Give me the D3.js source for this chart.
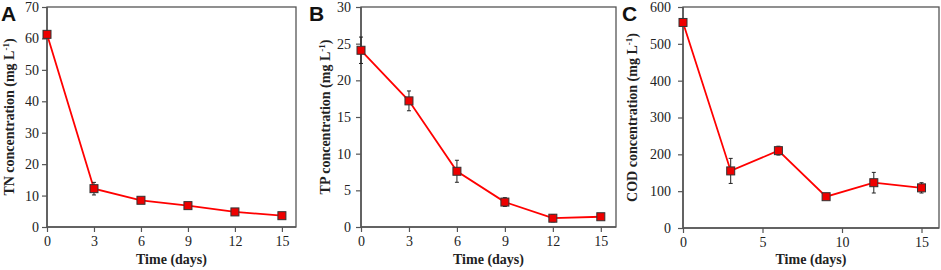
<!DOCTYPE html>
<html>
<head>
<meta charset="utf-8">
<script src="https://cdn.jsdelivr.net/npm/d3@7/dist/d3.min.js"></script>
<style>
  html, body { margin: 0; padding: 0; background: #fff; }
  svg { display: block; }
</style>
</head>
<body>
<svg id="chart" width="941" height="270"></svg>
<script>
// ---- data ----
const days = [0, 3, 6, 9, 12, 15];
const tnValues = [61.3, 12.2, 8.5, 6.8, 4.8, 3.6];
const tnErrors = [0.8, 2.0, 0.7, 0.6, 0.6, 0.5];
const tpValues = [24.1, 17.2, 7.6, 3.4, 1.2, 1.4];
const tpErrors = [1.8, 1.35, 1.5, 0.6, 0.5, 0.4];
const codValues = [558, 155, 210, 85, 123, 109];
const codErrors = [6, 34, 12, 5, 28, 14];
const tnTicksY = [0, 10, 20, 30, 40, 50, 60, 70];
const tpTicksY = [0, 5, 10, 15, 20, 25, 30];
const codTicksY = [0, 100, 200, 300, 400, 500, 600];
const ticksX3 = [0, 3, 6, 9, 12, 15];
const ticksX5 = [0, 5, 10, 15];
const panelLetters = ["A", "B", "C"];
const yTitles = ["TN concentration (mg L", "TP concentration (mg L", "COD concentration (mg L"];
const xTitle = "Time (days)";

const panels = [
  { letter: panelLetters[0], values: tnValues, errors: tnErrors, yTicks: tnTicksY, xTicks: ticksX3, yMax: 70, xMax: 15.9, yTitle: yTitles[0],
    left: 47, right: 296, top: 7, bottom: 227, yTitleX: 10, letterX: 1, tickPad: 3 },
  { letter: panelLetters[1], values: tpValues, errors: tpErrors, yTicks: tpTicksY, xTicks: ticksX3, yMax: 30, xMax: 15.95, yTitle: yTitles[1],
    left: 361, right: 616, top: 7, bottom: 227, yTitleX: 326, letterX: 309, tickPad: 5 },
  { letter: panelLetters[2], values: codValues, errors: codErrors, yTicks: codTicksY, xTicks: ticksX5, yMax: 600, xMax: 16.1, yTitle: yTitles[2],
    left: 683, right: 939, top: 7, bottom: 228, yTitleX: 633, letterX: 622, tickPad: 7 }
];

const svg = d3.select("#chart");
const axisColor = "#555";
const serif = "'Liberation Serif', 'Times New Roman', serif";

panels.forEach(p => {
  const x = d3.scaleLinear().domain([0, p.xMax]).range([p.left, p.right]);
  const y = d3.scaleLinear().domain([0, p.yMax]).range([p.bottom, p.top]);
  const g = svg.append("g");

  // frame (top & right)
  g.append("rect")
    .attr("x", p.left).attr("y", p.top)
    .attr("width", p.right - p.left).attr("height", p.bottom - p.top)
    .attr("fill", "none").attr("stroke", axisColor).attr("stroke-width", 1.3);

  // y axis
  const yAxis = g.append("g")
    .attr("transform", `translate(${p.left},0)`)
    .call(d3.axisLeft(y).tickValues(p.yTicks).tickSize(5).tickPadding(p.tickPad).tickFormat(d3.format("d")));
  // x axis
  const xAxis = g.append("g")
    .attr("transform", `translate(0,${p.bottom})`)
    .call(d3.axisBottom(x).tickValues(p.xTicks).tickSize(5).tickPadding(4).tickFormat(d3.format("d")));

  [yAxis, xAxis].forEach(a => {
    a.select(".domain").attr("stroke", axisColor).attr("stroke-width", 1.5);
    a.selectAll(".tick line").attr("stroke", axisColor).attr("stroke-width", 1.2);
    a.selectAll(".tick text").attr("font-family", serif).attr("font-size", 14).attr("fill", "#222");
  });
  xAxis.select(".domain").attr("d", `M${p.left},0H${p.right}`);
  yAxis.select(".domain").attr("d", `M0,${p.bottom}V${p.top}`);

  // line
  const line = d3.line().x((d, i) => x(days[i])).y(d => y(d));
  g.append("path").datum(p.values)
    .attr("d", line).attr("fill", "none")
    .attr("stroke", "#ff0000").attr("stroke-width", 1.8);

  // error bars
  const eb = g.append("g").attr("stroke", "#222").attr("stroke-width", 1);
  p.values.forEach((v, i) => {
    const cx = x(days[i]);
    const y1 = y(v + p.errors[i]), y2 = y(v - p.errors[i]);
    eb.append("line").attr("x1", cx).attr("x2", cx).attr("y1", y1).attr("y2", y2);
    eb.append("line").attr("x1", cx - 2).attr("x2", cx + 2).attr("y1", y1).attr("y2", y1);
    eb.append("line").attr("x1", cx - 2).attr("x2", cx + 2).attr("y1", y2).attr("y2", y2);
  });

  // markers
  const s = 8;
  g.selectAll("rect.marker").data(p.values).enter().append("rect")
    .attr("class", "marker")
    .attr("x", (d, i) => x(days[i]) - s / 2)
    .attr("y", d => y(d) - s / 2)
    .attr("width", s).attr("height", s)
    .attr("fill", "#ee0000").attr("stroke", "#333").attr("stroke-width", 1);

  // x title
  g.append("text")
    .attr("x", (p.left + p.right) / 2).attr("y", 264)
    .attr("text-anchor", "middle")
    .attr("font-family", serif).attr("font-weight", "bold").attr("font-size", 14)
    .attr("fill", "#222")
    .text(xTitle);

  // y title with superscript
  const yt = g.append("text")
    .attr("transform", `translate(${p.yTitleX + 4},${(p.top + p.bottom) / 2}) rotate(-90)`)
    .attr("text-anchor", "middle")
    .attr("font-family", serif).attr("font-weight", "bold").attr("font-size", 14)
    .attr("fill", "#222");
  yt.append("tspan").text(p.yTitle);
  yt.append("tspan").attr("baseline-shift", "super").attr("font-size", 9).text("-1");
  yt.append("tspan").text(")");

  // panel letter
  g.append("text")
    .attr("x", p.letterX).attr("y", 21)
    .attr("font-family", "'Liberation Sans', Arial, sans-serif")
    .attr("font-weight", "bold").attr("font-size", 21)
    .attr("fill", "#111")
    .text(p.letter);
});
</script>
</body>
</html>
